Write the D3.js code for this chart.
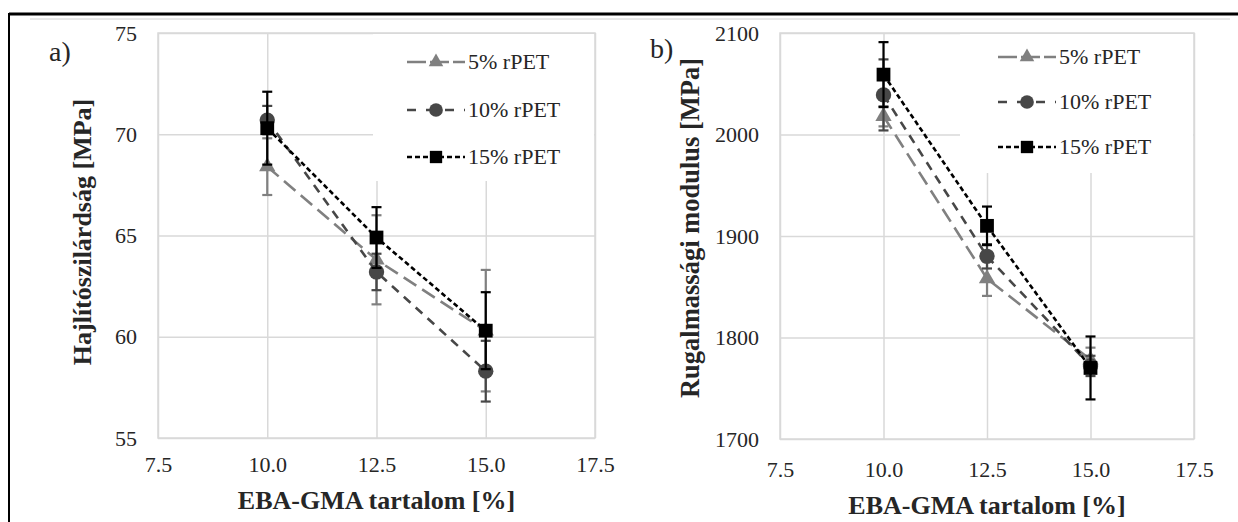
<!DOCTYPE html>
<html>
<head>
<meta charset="utf-8">
<script src="https://cdn.jsdelivr.net/npm/d3@7"></script>
<style>
  body { margin: 0; background: #fff; }
  svg text { font-family: "Liberation Serif", "Times New Roman", serif; fill: #262626; }
</style>
</head>
<body>
<script>
// Data
const xValues = [10, 12.5, 15];
const seriesNames = ["5% rPET", "10% rPET", "15% rPET"];
const xTicks = [7.5, 10, 12.5, 15, 17.5];

// a) Hajlítószilárdság [MPa]
const strength5 = [68.4, 63.8, 60.3];
const strength10 = [70.7, 63.2, 58.3];
const strength15 = [70.3, 64.9, 60.3];
const strengthErr5 = [1.4, 2.2, 3.0];
const strengthErr10 = [0.7, 0.9, 1.5];
const strengthErr15 = [1.8, 1.5, 1.9];
const strengthTicks = [55, 60, 65, 70, 75];

// b) Rugalmassági modulus [MPa]
const modulus5 = [2018, 1858, 1778];
const modulus10 = [2039, 1880, 1772];
const modulus15 = [2059, 1910, 1770];
const modulusErr5 = [10, 17, 12];
const modulusErr10 = [35, 12, 10];
const modulusErr15 = [32, 19, 31];
const modulusTicks = [1700, 1800, 1900, 2000, 2100];

const width = 1238, height = 522;
const serif = "'Liberation Serif', 'Times New Roman', serif";

const svg = d3.select("body").append("svg")
  .attr("width", width)
  .attr("height", height)
  .attr("font-family", serif);

// page frame lines
svg.append("line").attr("x1", 9).attr("x2", width).attr("y1", 14).attr("y2", 14)
  .attr("stroke", "#000").attr("stroke-width", 3);
svg.append("line").attr("x1", 9).attr("x2", 9).attr("y1", 13).attr("y2", height)
  .attr("stroke", "#000").attr("stroke-width", 2);
svg.append("line").attr("x1", 30).attr("x2", 1230).attr("y1", 19).attr("y2", 19)
  .attr("stroke", "#d0d0d0").attr("stroke-width", 1);

// series styles
const styles = [
  { color: "#808080", dash: "15,7", symbol: d3.symbolTriangle, size: 115 },
  { color: "#474747", dash: "9,7", symbol: d3.symbolCircle, size: 185 },
  { color: "#000000", dash: "5,3", symbol: d3.symbolSquare, size: 190 }
];

function drawPanel(cfg) {
  const x = d3.scaleLinear().domain([7.5, 17.5]).range([cfg.left, cfg.right]);
  const y = d3.scaleLinear().domain(cfg.yDomain).range([cfg.bottom, cfg.top]);
  const g = svg.append("g");

  // gridlines
  g.append("g")
    .attr("transform", `translate(0,${cfg.bottom})`)
    .call(d3.axisBottom(x).tickValues(xTicks).tickSize(-(cfg.bottom - cfg.top)).tickFormat(""))
    .call(s => s.select(".domain").remove())
    .selectAll("line").attr("stroke", "#d9d9d9").attr("stroke-width", 1.5);
  g.append("g")
    .attr("transform", `translate(${cfg.left},0)`)
    .call(d3.axisLeft(y).tickValues(cfg.yTicks).tickSize(-(cfg.right - cfg.left)).tickFormat(""))
    .call(s => s.select(".domain").remove())
    .selectAll("line").attr("stroke", "#d9d9d9").attr("stroke-width", 1.5);

  // legend background hides the gridlines behind it
  g.append("rect")
    .attr("x", cfg.legendBox[0]).attr("y", cfg.top + 1)
    .attr("width", cfg.right - cfg.legendBox[0] - 1)
    .attr("height", cfg.legendBox[1] - cfg.top)
    .attr("fill", "#fff");

  // plot border
  g.append("rect")
    .attr("x", cfg.left).attr("y", cfg.top)
    .attr("width", cfg.right - cfg.left).attr("height", cfg.bottom - cfg.top)
    .attr("fill", "none").attr("stroke", "#d9d9d9").attr("stroke-width", 1.5);

  // tick labels
  g.append("g")
    .attr("transform", `translate(${cfg.left - 21},0)`)
    .call(d3.axisLeft(y).tickValues(cfg.yTicks).tickSize(0).tickPadding(0).tickFormat(d3.format("d")))
    .attr("font-family", serif).attr("font-size", 22)
    .call(s => s.select(".domain").remove())
    .selectAll("text").attr("fill", "#262626");
  g.append("g")
    .attr("transform", `translate(0,${cfg.bottom + cfg.xLabelGap})`)
    .call(d3.axisBottom(x).tickValues(xTicks).tickSize(0).tickPadding(0).tickFormat(d3.format(".1f")))
    .attr("font-family", serif).attr("font-size", 22)
    .call(s => s.select(".domain").remove())
    .selectAll("text").attr("fill", "#262626").attr("dy", "0");

  // axis titles
  g.append("text")
    .attr("x", (cfg.left + cfg.right) / 2)
    .attr("y", cfg.xTitleY)
    .attr("text-anchor", "middle")
    .style("font-size", "26px")
    .style("font-weight", "bold")
    .text("EBA-GMA tartalom [%]");
  g.append("text")
    .attr("transform", `translate(${cfg.yTitleX},${cfg.yTitleY}) rotate(-90)`)
    .attr("text-anchor", "middle")
    .style("font-size", cfg.yTitleSize)
    .style("font-weight", "bold")
    .text(cfg.yTitle);

  // panel letter
  g.append("text")
    .attr("x", cfg.letterPos[0]).attr("y", cfg.letterPos[1])
    .style("font-size", "28px")
    .text(cfg.letter);

  const line = d3.line().x(d => x(d[0])).y(d => y(d[1]));

  cfg.series.forEach((vals, i) => {
    const st = styles[i];
    const pts = xValues.map((xv, j) => [xv, vals[j], cfg.errors[i][j]]);
    const sg = g.append("g");
    sg.append("path")
      .datum(pts)
      .attr("d", line)
      .attr("fill", "none")
      .attr("stroke", st.color)
      .attr("stroke-width", 2.6)
      .attr("stroke-dasharray", st.dash);
    // error bars
    const eb = sg.selectAll(".err").data(pts).enter().append("g");
    eb.append("line")
      .attr("x1", d => x(d[0])).attr("x2", d => x(d[0]))
      .attr("y1", d => y(d[1] - d[2])).attr("y2", d => y(d[1] + d[2]))
      .attr("stroke", st.color).attr("stroke-width", 2.2);
    [-1, 1].forEach(sgn => {
      eb.append("line")
        .attr("x1", d => x(d[0]) - 5).attr("x2", d => x(d[0]) + 5)
        .attr("y1", d => y(d[1] + sgn * d[2])).attr("y2", d => y(d[1] + sgn * d[2]))
        .attr("stroke", st.color).attr("stroke-width", 2.2);
    });
    sg.selectAll(".mk").data(pts).enter().append("path")
      .attr("transform", d => `translate(${x(d[0])},${y(d[1])})`)
      .attr("d", d3.symbol(st.symbol, st.size))
      .attr("fill", st.color);

    // legend entry
    const ly = cfg.legendRows[i];
    const lg = g.append("g");
    lg.append("line")
      .attr("x1", cfg.legendX).attr("x2", cfg.legendX + 58)
      .attr("y1", ly).attr("y2", ly)
      .attr("stroke", st.color).attr("stroke-width", 2.6)
      .attr("stroke-dasharray", i === 0 ? "19,4" : (i === 1 ? "9,10" : "5,3"));
    lg.append("path")
      .attr("transform", `translate(${cfg.legendX + 29},${ly})`)
      .attr("d", d3.symbol(st.symbol, st.size * 0.8))
      .attr("fill", st.color);
    lg.append("text")
      .attr("x", cfg.legendX + 61).attr("y", ly + 7)
      .style("font-size", "22px")
      .text(seriesNames[i]);
  });
}

drawPanel({
  left: 158, right: 595, top: 33, bottom: 438,
  yDomain: [55, 75], yTicks: strengthTicks,
  series: [strength5, strength10, strength15],
  errors: [strengthErr5, strengthErr10, strengthErr15],
  xLabelGap: 34, xTitleY: 509,
  yTitle: "Hajlítószilárdság [MPa]", yTitleSize: "26px", yTitleX: 91, yTitleY: 232,
  letter: "a)", letterPos: [49, 61],
  legendBox: [373, 180], legendX: 407, legendRows: [62, 110, 157]
});

drawPanel({
  left: 780, right: 1194, top: 33, bottom: 439,
  yDomain: [1700, 2100], yTicks: modulusTicks,
  series: [modulus5, modulus10, modulus15],
  errors: [modulusErr5, modulusErr10, modulusErr15],
  xLabelGap: 38, xTitleY: 514,
  yTitle: "Rugalmassági modulus [MPa]", yTitleSize: "26.5px", yTitleX: 699, yTitleY: 228,
  letter: "b)", letterPos: [650, 58],
  legendBox: [960, 172], legendX: 998, legendRows: [57, 102, 147]
});
</script>
</body>
</html>
